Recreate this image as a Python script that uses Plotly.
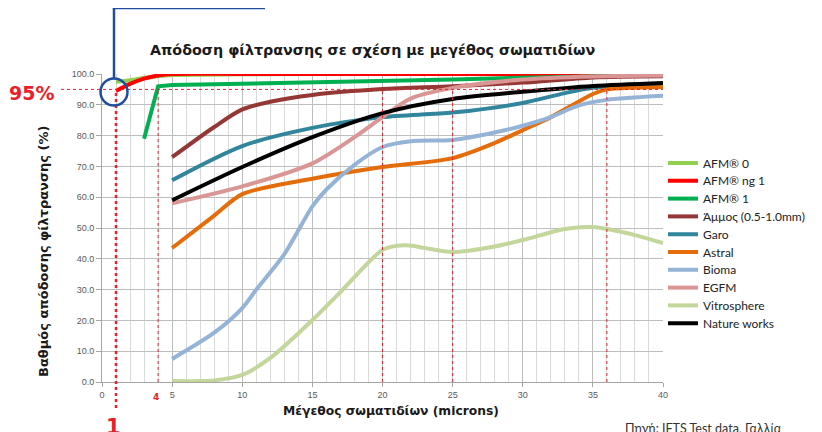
import plotly.graph_objects as go

# ---------------- data ----------------
series_names = ["AFM® 0", "AFM® ng 1", "AFM® 1", "Άμμος (0.5-1.0mm)", "Garo",
                "Astral", "Bioma", "EGFM", "Vitrosphere", "Nature works"]

afm0_x = [1, 2, 3, 4, 5, 10, 20, 30, 40]
afm0_y = [97.5, 98.0, 98.7, 99.3, 99.7, 99.9, 100, 100, 100]

afmng1_x = [1, 2, 3, 4, 5, 10, 20, 30, 40]
afmng1_y = [94.5, 96.8, 98.5, 99.5, 100, 100, 100, 100, 100]

afm1_x = [3, 4, 5, 10, 15, 20, 25, 30, 35, 40]
afm1_y = [79, 96, 96.4, 96.8, 97.2, 97.8, 98.2, 98.8, 99.3, 99.6]

ammos_x = [5, 8, 10, 12, 15, 20, 25, 30, 35, 40]
ammos_y = [73, 82.8, 88.5, 91, 93.2, 95.1, 96.0, 97.2, 98.9, 99.3]

garo_x = [5, 10, 15, 20, 25, 30, 33, 35, 40]
garo_y = [65.5, 76.6, 82.5, 86, 87.5, 90.6, 93.8, 95.5, 96.8]

astral_x = [5, 8, 10, 15, 20, 25, 28, 30, 32, 35, 36, 40]
astral_y = [43.5, 54, 61, 66, 69.8, 72.7, 77.6, 81.8, 86, 93.5, 95, 95.8]

bioma_x = [5, 8, 10, 11, 13, 15, 16, 18, 20, 22, 25, 28, 30, 32, 34, 36, 40]
bioma_y = [7.5, 16, 24, 30, 41.5, 57, 62.5, 70.5, 76.3, 78.2, 78.6, 81, 83.2, 86, 89.8, 91.6, 92.9]

egfm_x = [5, 10, 15, 18, 20, 22, 25, 30, 35, 40]
egfm_y = [58, 63.5, 71, 79.5, 86, 92, 95.5, 98.2, 99.2, 99.5]

vitro_x = [5, 7, 8, 10, 12, 15, 17, 20, 21, 22, 23, 25, 28, 30, 33, 35, 38, 40]
vitro_y = [0.3, 0.3, 0.5, 2.3, 7.8, 20.1, 29.2, 42.9, 44.2, 44.3, 43.5, 42.2, 44, 46.1, 49.7, 50.3, 47.7, 45.1]

nature_x = [5, 10, 15, 20, 25, 30, 35, 40]
nature_y = [59, 69.8, 79.5, 87.3, 91.9, 94.2, 96.1, 97.1]

threshold = 95
marker_x_main = 1
marker_x_other = [4, 20, 25, 36]

x_ticks = [0, 5, 10, 15, 20, 25, 30, 35, 40]
y_ticks = [0, 10, 20, 30, 40, 50, 60, 70, 80, 90, 100]

colors = ["#92D050", "#FF0000", "#00B050", "#953735", "#31859C",
          "#E46C0A", "#95B3D7", "#D99694", "#C3D69B", "#000000"]

xs = [afm0_x, afmng1_x, afm1_x, ammos_x, garo_x, astral_x, bioma_x, egfm_x, vitro_x, nature_x]
ys = [afm0_y, afmng1_y, afm1_y, ammos_y, garo_y, astral_y, bioma_y, egfm_y, vitro_y, nature_y]
shapes_line = ["spline", "spline", "linear", "spline", "spline",
               "spline", "spline", "spline", "spline", "spline"]

# ---------------- layout geometry ----------------
OFF = 8                              # default page body margin
W, H = 822 - OFF, 432 - OFF          # figure size
L, R, T, B = 102, 663, 74, 382       # plot area in screenshot pixels


def px(xp):
    return (xp - L) / (R - L)


def py(yp):
    return (B - yp) / (B - T)


fig = go.Figure()

legend_layouts = {}
for i, (name, x, y, c, s) in enumerate(zip(series_names, xs, ys, colors, shapes_line)):
    lg = "legend" if i == 0 else f"legend{i + 1}"
    fig.add_trace(go.Scatter(
        x=x, y=y, name=name, mode="lines", legend=lg,
        line=dict(color=c, width=4, shape=s, smoothing=0.8),
        hoverinfo="x+y+name"))
    legend_layouts[lg] = dict(
        x=px(663), y=py(163 + i * 17.8), xanchor="left", yanchor="middle",
        font=dict(family="Lato", size=12, color="#222222"),
        itemwidth=30, bgcolor="rgba(0,0,0,0)", borderwidth=0)

red = "#E8202A"
blue = "#1F4E9E"

shapes = []
# horizontal 95% threshold dotted line
shapes.append(dict(type="line", xref="paper", yref="y",
                   x0=px(61), x1=1, y0=threshold, y1=threshold,
                   line=dict(color=red, width=1, dash="dot"), layer="above"))
# vertical line at x=1 (thick dots, runs below the axis)
shapes.append(dict(type="line", xref="x", yref="paper",
                   x0=marker_x_main, x1=marker_x_main, y0=py(408), y1=threshold / 100,
                   line=dict(color=red, width=2.5, dash="dot"), layer="above"))
# other vertical markers
for xv in marker_x_other:
    shapes.append(dict(type="line", xref="x", yref="y",
                       x0=xv, x1=xv, y0=0, y1=threshold,
                       line=dict(color=red, width=1, dash="dot"), layer="above"))
# blue circle + connector
cx, cy, r = 114, 92, 13.5
shapes.append(dict(type="circle", xref="paper", yref="paper",
                   x0=px(cx - r), x1=px(cx + r), y0=py(cy + r), y1=py(cy - r),
                   line=dict(color=blue, width=2.5), layer="above"))
shapes.append(dict(type="line", xref="paper", yref="paper",
                   x0=px(cx), x1=px(cx), y0=py(cy - r), y1=py(8),
                   line=dict(color=blue, width=2.5), layer="above"))
shapes.append(dict(type="line", xref="paper", yref="paper",
                   x0=px(cx - 1.2), x1=px(265), y0=py(8), y1=py(8),
                   line=dict(color=blue, width=2.5), layer="above"))


def ann(text, x, y, size, color="#1a1a1a", family="DejaVu Sans", **kw):
    d = dict(text=text, x=px(x), y=py(y), xref="paper", yref="paper",
             showarrow=False, xanchor="center", yanchor="middle",
             font=dict(family=family, size=size, color=color))
    d.update(kw)
    return d


annotations = [
    ann("<b>Απόδοση φίλτρανσης σε σχέση με μεγέθος σωματιδίων</b>", 372, 50, 14.3),
    ann("<b>Μέγεθος σωματιδίων (microns)</b>", 391, 411, 12.3),
    ann("<b>Βαθμός απόδοσης φίλτρανσης (%)</b>", 43, 251, 13, textangle=-90),
    ann("<b>95%</b>", 31, 93, 19, color=red),
    ann("<b>1</b>", 113, 413, 21, color=red, yanchor="top"),
    ann("<b>4</b>", 156, 397, 9, color=red),
    ann("Πηγή: IFTS Test data, Γαλλία", 623, 419, 12.5, color="#333333",
        family="Lato", xanchor="left", yanchor="top"),
]

fig.update_layout(
    width=W, height=H,
    margin=dict(l=L - OFF, r=(W + OFF) - R, t=T - OFF, b=(H + OFF) - B, pad=0),
    paper_bgcolor="white", plot_bgcolor="white",
    showlegend=True,
    shapes=shapes, annotations=annotations,
    **legend_layouts,
)

fig.update_xaxes(range=[0, 40], tickvals=x_ticks, ticktext=[str(v) for v in x_ticks],
                 showgrid=True, gridcolor="#BDBDBD", gridwidth=1,
                 minor=dict(dtick=1, showgrid=True, gridcolor="#DADADA", gridwidth=1),
                 showline=True, linecolor="#A6A6A6", linewidth=1,
                 ticks="outside", ticklen=4, tickcolor="#A6A6A6",
                 tickfont=dict(family="Liberation Sans", size=9, color="#595959"),
                 zeroline=False, fixedrange=True)
fig.update_yaxes(range=[0, 100], tickvals=y_ticks, ticktext=[f"{v:.1f}" for v in y_ticks],
                 showgrid=True, gridcolor="#BDBDBD", gridwidth=1.3,
                 showline=True, linecolor="#A6A6A6", linewidth=1,
                 ticks="outside", ticklen=5, tickcolor="#A6A6A6",
                 tickfont=dict(family="Liberation Sans", size=9, color="#595959"),
                 zeroline=False, fixedrange=True)

fig.write_html("out.html")
